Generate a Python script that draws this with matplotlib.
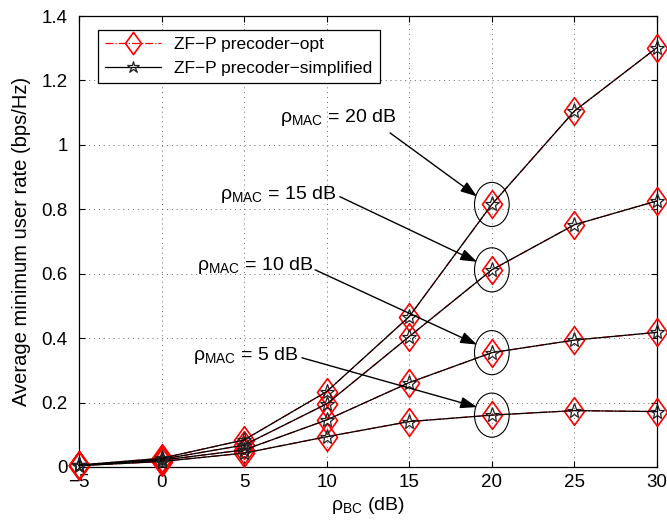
import matplotlib

matplotlib.use("Agg")
import matplotlib.pyplot as plt
from matplotlib.patches import Ellipse
from matplotlib.path import Path
from matplotlib.ticker import FormatStrFormatter

plt.rcParams["font.family"] = ["Liberation Sans", "DejaVu Sans"]
plt.rcParams["mathtext.fontset"] = "custom"
plt.rcParams["mathtext.rm"] = "Liberation Sans"
plt.rcParams["mathtext.it"] = "Liberation Sans"
plt.rcParams["mathtext.default"] = "regular"

# --- data -----------------------------------------------------------------
rho_bc_db = [-5, 0, 5, 10, 15, 20, 25, 30]
rho_mac_labels = ["5 dB", "10 dB", "15 dB", "20 dB"]
# ZF-P precoder-opt, one list per rho_MAC
opt_5db = [0.004, 0.017, 0.043, 0.094, 0.141, 0.161, 0.175, 0.172]
opt_10db = [0.005, 0.021, 0.053, 0.146, 0.262, 0.355, 0.394, 0.418]
opt_15db = [0.005, 0.024, 0.068, 0.196, 0.405, 0.612, 0.752, 0.826]
opt_20db = [0.006, 0.027, 0.084, 0.234, 0.467, 0.815, 1.105, 1.302]
# ZF-P precoder-simplified (overlaps the optimal curves)
simp_5db = [0.004, 0.017, 0.043, 0.094, 0.141, 0.161, 0.175, 0.172]
simp_10db = [0.005, 0.021, 0.053, 0.146, 0.262, 0.355, 0.394, 0.418]
simp_15db = [0.005, 0.024, 0.068, 0.196, 0.405, 0.612, 0.752, 0.826]
simp_20db = [0.006, 0.027, 0.084, 0.234, 0.467, 0.815, 1.105, 1.302]

opt_curves = [opt_5db, opt_10db, opt_15db, opt_20db]
simp_curves = [simp_5db, simp_10db, simp_15db, simp_20db]

# annotation text anchor (left, centre) and arrow tail, in data units
label_xy = [(1.9, 0.345), (2.15, 0.627), (3.54, 0.845), (7.17, 1.084)]
tail_xy = [(8.5, 0.339), (9.3, 0.612), (10.8, 0.839), (13.84, 1.037)]
head_dx = -0.9  # arrow tips stop left of the circled point at rho_BC = 20

# tall matlab-like diamond
diamond = Path([(0, 1), (0.72, 0), (0, -1), (-0.72, 0), (0, 1)],
               [Path.MOVETO, Path.LINETO, Path.LINETO, Path.LINETO, Path.CLOSEPOLY])

fig = plt.figure(figsize=(6.67, 5.25), dpi=100)
ax = fig.add_axes([0.1184, 0.1105, 0.8666, 0.859])

for i, (yo, ys) in enumerate(zip(opt_curves, simp_curves)):
    ax.plot(rho_bc_db, yo, "-.", color="red", lw=0.9, marker=diamond, ms=20,
            mfc="none", mec="red", mew=1.2, clip_on=False, zorder=3,
            label="ZF\u2212P precoder\u2212opt" if i == 0 else None)
    ax.plot(rho_bc_db, ys, "-", color="black", lw=0.9, marker="*", ms=11,
            mfc="none", mec="#222222", mew=0.9, clip_on=False, zorder=4,
            label="ZF\u2212P precoder\u2212simplified" if i == 0 else None)

x20 = rho_bc_db.index(20)
for i, lab in enumerate(rho_mac_labels):
    yc = opt_curves[i][x20]
    ax.add_patch(Ellipse((20, yc), 2.1, 0.137, fill=False, ec="black", lw=0.8, zorder=5))
    ax.annotate("", xy=(20 + head_dx, yc + 0.025), xytext=tail_xy[i],
                arrowprops=dict(arrowstyle="-|>,head_length=1.0,head_width=0.35",
                                color="black", lw=1.0, shrinkA=0, shrinkB=0),
                zorder=6)
    ax.text(label_xy[i][0], label_xy[i][1], r"$\rho_{MAC}$ = " + lab,
            fontsize=14, ha="left", va="center", zorder=6)

ax.set_xlim(-5, 30)
ax.set_ylim(0, 1.4)
ax.set_xticks(rho_bc_db)
ax.set_yticks([0, 0.2, 0.4, 0.6, 0.8, 1.0, 1.2, 1.4])
ax.yaxis.set_major_formatter(FormatStrFormatter("%g"))
ax.grid(True, linestyle=(0, (1, 4)), color="0.4", lw=0.7)
ax.tick_params(direction="in", top=True, right=True, labelsize=13.5, length=4)
ax.tick_params(axis="y", pad=8)
ax.tick_params(axis="x", pad=5)
for s in ax.spines.values():
    s.set_linewidth(0.9)

ax.set_xlabel(r"$\rho_{BC}$ (dB)", fontsize=14, labelpad=3)
ax.set_ylabel("Average minimum user rate (bps/Hz)", fontsize=14.5, labelpad=8)

leg = ax.legend(loc="upper left", bbox_to_anchor=(0.033, 0.969), fontsize=12.5,
                fancybox=False, framealpha=1, edgecolor="black",
                borderaxespad=0, handlelength=3.2, markerscale=0.8)
leg.get_frame().set_linewidth(0.9)

fig.savefig("out.png", dpi=100)
